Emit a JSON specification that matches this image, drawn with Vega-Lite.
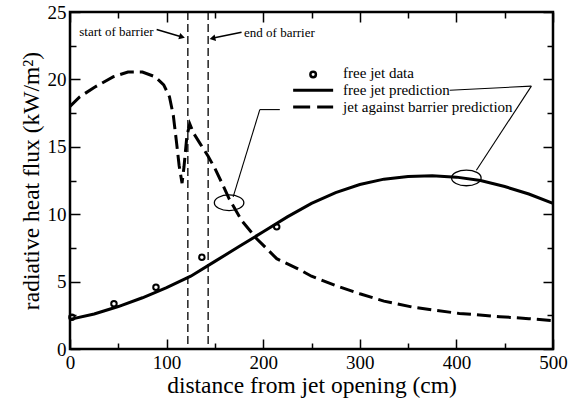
{
  "$schema": "https://vega.github.io/schema/vega-lite/v6.json",
  "width": 483,
  "height": 337,
  "autosize": "none",
  "padding": {"left": 70, "top": 12, "right": 18, "bottom": 51},
  "background": "white",
  "config": {
    "view": {"stroke": "black", "strokeWidth": 2.5},
    "axis": {
      "domain": false, "grid": false, "tickColor": "black", "tickWidth": 1.5,
      "labelFont": "Liberation Serif", "labelFontSize": 19, "labelColor": "black",
      "titleFont": "Liberation Serif", "titleFontSize": 23.5, "titleFontWeight": "normal", "titleColor": "black",
      "labelFlush": false, "labelOverlap": false
    },
    "text": {"font": "Liberation Serif", "color": "black"}
  },
  "datasets": {
    "solid": [
      {"x": 0, "y": 2.2}, {"x": 25, "y": 2.6}, {"x": 50, "y": 3.15}, {"x": 75, "y": 3.8}, {"x": 100, "y": 4.55},
      {"x": 125, "y": 5.4}, {"x": 150, "y": 6.5}, {"x": 175, "y": 7.6}, {"x": 200, "y": 8.7}, {"x": 225, "y": 9.8},
      {"x": 250, "y": 10.8}, {"x": 275, "y": 11.6}, {"x": 300, "y": 12.2}, {"x": 325, "y": 12.6}, {"x": 350, "y": 12.8},
      {"x": 375, "y": 12.85}, {"x": 400, "y": 12.75}, {"x": 425, "y": 12.5}, {"x": 450, "y": 12.05}, {"x": 475, "y": 11.5},
      {"x": 500, "y": 10.8}
    ],
    "dashed": [
      {"x": 0, "y": 18.0}, {"x": 10, "y": 18.7}, {"x": 25, "y": 19.4}, {"x": 45, "y": 20.2}, {"x": 60, "y": 20.55},
      {"x": 75, "y": 20.55}, {"x": 88, "y": 20.2}, {"x": 97, "y": 19.6}, {"x": 103, "y": 18.7}, {"x": 107, "y": 17.3},
      {"x": 110, "y": 15.5}, {"x": 113, "y": 13.6}, {"x": 116, "y": 12.3}, {"x": 118, "y": 13.5}, {"x": 121, "y": 15.8},
      {"x": 124, "y": 16.7}, {"x": 128, "y": 16.0}, {"x": 135, "y": 15.2}, {"x": 143, "y": 14.3}, {"x": 150, "y": 13.4},
      {"x": 158, "y": 12.2}, {"x": 165, "y": 11.1}, {"x": 178, "y": 9.5}, {"x": 193, "y": 8.2}, {"x": 214, "y": 6.7},
      {"x": 236, "y": 5.95}, {"x": 250, "y": 5.4}, {"x": 275, "y": 4.7}, {"x": 300, "y": 4.1}, {"x": 325, "y": 3.55},
      {"x": 355, "y": 3.1}, {"x": 380, "y": 2.85}, {"x": 403, "y": 2.64}, {"x": 445, "y": 2.4}, {"x": 475, "y": 2.25},
      {"x": 500, "y": 2.1}
    ],
    "points": [
      {"x": 2, "y": 2.35}, {"x": 45.5, "y": 3.35}, {"x": 89, "y": 4.58}, {"x": 136.5, "y": 6.8}, {"x": 214, "y": 9.06}
    ],
    "barrier": [{"x": 122}, {"x": 143}],
    "notes": [
      {"x": 9.6, "y": 23.5, "label": "start of barrier"},
      {"x": 180.2, "y": 23.45, "label": "end of barrier"}
    ],
    "arrows": [
      {"x": 89.7, "y": 23.7, "x2": 116, "y2": 23.15},
      {"x": 177.6, "y": 23.5, "x2": 147, "y2": 23.05}
    ],
    "arrowStart": [{"x": 116, "y": 23.15}],
    "arrowEnd": [{"x": 147.5, "y": 23.05}],
    "leaders": [
      {"x": 393, "y": 19.2, "x2": 477.6, "y2": 19.5},
      {"x": 477.6, "y": 19.5, "x2": 420.7, "y2": 13.26},
      {"x": 217.2, "y": 17.76, "x2": 196.5, "y2": 17.76},
      {"x": 196.5, "y": 17.76, "x2": 168.9, "y2": 11.28}
    ],
    "ellipses": [{"x": 164.7, "y": 10.85}, {"x": 410.3, "y": 12.69}],
    "legendPoint": [{"x": 251.7, "y": 20.37}],
    "legendSolid": [{"x": 231, "x2": 272.4, "y": 19.19}],
    "legendDashed": [{"x": 231, "x2": 272.4, "y": 17.95}],
    "legendText": [
      {"x": 282.7, "y": 20.45, "label": "free jet data"},
      {"x": 282.7, "y": 19.19, "label": "free jet prediction"},
      {"x": 282.7, "y": 17.95, "label": "jet against barrier prediction"}
    ]
  },
  "layer": [
    {
      "data": {"name": "solid"},
      "mark": {"type": "line", "color": "black", "strokeWidth": 3},
      "encoding": {
        "x": {"field": "x", "type": "quantitative", "scale": {"domain": [0, 500], "nice": false},
          "axis": {"orient": "bottom", "values": [0, 50, 100, 150, 200, 250, 300, 350, 400, 450, 500],
            "labelExpr": "datum.value % 100 === 0 ? datum.label : ''",
            "tickSize": {"condition": {"test": "datum.value % 100 === 0", "value": -10}, "value": -6},
            "labelPadding": 14,
            "title": "distance from jet opening (cm)", "titleX": 241.5, "titleY": 43, "titleBaseline": "alphabetic"}},
        "y": {"field": "y", "type": "quantitative", "scale": {"domain": [0, 25], "nice": false},
          "axis": {"orient": "left", "values": [0, 2.5, 5, 7.5, 10, 12.5, 15, 17.5, 20, 22.5, 25],
            "labelExpr": "datum.value % 5 === 0 ? datum.label : ''",
            "tickSize": {"condition": {"test": "datum.value % 5 === 0", "value": -10}, "value": -6},
            "labelPadding": 14,
            "title": "radiative heat flux (kW/m²)", "titleX": -32, "titleY": 168.5, "titleBaseline": "alphabetic"}}
      }
    },
    {
      "data": {"name": "dashed"},
      "mark": {"type": "line", "color": "black", "strokeWidth": 3, "strokeDash": [14, 6]},
      "encoding": {
        "x": {"field": "x", "type": "quantitative",
          "axis": {"orient": "top", "values": [0, 50, 100, 150, 200, 250, 300, 350, 400, 450, 500],
            "labels": false, "title": null,
            "tickSize": {"condition": {"test": "datum.value % 100 === 0", "value": -10}, "value": -6}}},
        "y": {"field": "y", "type": "quantitative",
          "axis": {"orient": "right", "values": [0, 2.5, 5, 7.5, 10, 12.5, 15, 17.5, 20, 22.5, 25],
            "labels": false, "title": null,
            "tickSize": {"condition": {"test": "datum.value % 5 === 0", "value": -10}, "value": -6}}}
      }
    },
    {
      "data": {"name": "barrier"},
      "mark": {"type": "rule", "color": "black", "strokeWidth": 1.3, "strokeDash": [8, 4]},
      "encoding": {"x": {"field": "x", "type": "quantitative", "axis": null}}
    },
    {
      "data": {"name": "points"},
      "mark": {"type": "point", "shape": "circle", "filled": false, "color": "black", "strokeWidth": 2, "size": 30, "opacity": 1},
      "encoding": {
        "x": {"field": "x", "type": "quantitative", "axis": null},
        "y": {"field": "y", "type": "quantitative", "axis": null}
      }
    },
    {
      "data": {"name": "notes"},
      "mark": {"type": "text", "align": "left", "baseline": "middle", "fontSize": 13},
      "encoding": {
        "x": {"field": "x", "type": "quantitative", "axis": null},
        "y": {"field": "y", "type": "quantitative", "axis": null},
        "text": {"field": "label"}
      }
    },
    {
      "data": {"name": "arrows"},
      "mark": {"type": "rule", "color": "black", "strokeWidth": 1.6},
      "encoding": {
        "x": {"field": "x", "type": "quantitative", "axis": null},
        "y": {"field": "y", "type": "quantitative", "axis": null},
        "x2": {"field": "x2"},
        "y2": {"field": "y2"}
      }
    },
    {
      "data": {"name": "arrowStart"},
      "mark": {"type": "point", "shape": "triangle-right", "filled": true, "color": "black", "size": 45, "angle": 16, "opacity": 1},
      "encoding": {
        "x": {"field": "x", "type": "quantitative", "axis": null},
        "y": {"field": "y", "type": "quantitative", "axis": null}
      }
    },
    {
      "data": {"name": "arrowEnd"},
      "mark": {"type": "point", "shape": "triangle-left", "filled": true, "color": "black", "size": 45, "angle": -12, "opacity": 1},
      "encoding": {
        "x": {"field": "x", "type": "quantitative", "axis": null},
        "y": {"field": "y", "type": "quantitative", "axis": null}
      }
    },
    {
      "data": {"name": "leaders"},
      "mark": {"type": "rule", "color": "black", "strokeWidth": 1.1},
      "encoding": {
        "x": {"field": "x", "type": "quantitative", "axis": null},
        "y": {"field": "y", "type": "quantitative", "axis": null},
        "x2": {"field": "x2"},
        "y2": {"field": "y2"}
      }
    },
    {
      "data": {"name": "ellipses"},
      "mark": {"type": "point", "shape": "M -1 0 A 1 0.53 0 1 0 1 0 A 1 0.53 0 1 0 -1 0 Z", "filled": false, "color": "black", "strokeWidth": 1.3, "size": 870, "opacity": 1},
      "encoding": {
        "x": {"field": "x", "type": "quantitative", "axis": null},
        "y": {"field": "y", "type": "quantitative", "axis": null}
      }
    },
    {
      "data": {"name": "legendPoint"},
      "mark": {"type": "point", "shape": "circle", "filled": false, "color": "black", "strokeWidth": 2.5, "size": 30, "opacity": 1},
      "encoding": {
        "x": {"field": "x", "type": "quantitative", "axis": null},
        "y": {"field": "y", "type": "quantitative", "axis": null}
      }
    },
    {
      "data": {"name": "legendSolid"},
      "mark": {"type": "rule", "color": "black", "strokeWidth": 3},
      "encoding": {
        "x": {"field": "x", "type": "quantitative", "axis": null},
        "x2": {"field": "x2"},
        "y": {"field": "y", "type": "quantitative", "axis": null}
      }
    },
    {
      "data": {"name": "legendDashed"},
      "mark": {"type": "rule", "color": "black", "strokeWidth": 3, "strokeDash": [17, 7]},
      "encoding": {
        "x": {"field": "x", "type": "quantitative", "axis": null},
        "x2": {"field": "x2"},
        "y": {"field": "y", "type": "quantitative", "axis": null}
      }
    },
    {
      "data": {"name": "legendText"},
      "mark": {"type": "text", "align": "left", "baseline": "middle", "fontSize": 15},
      "encoding": {
        "x": {"field": "x", "type": "quantitative", "axis": null},
        "y": {"field": "y", "type": "quantitative", "axis": null},
        "text": {"field": "label"}
      }
    }
  ],
  "resolve": {"axis": {"x": "independent", "y": "independent"}}
}
